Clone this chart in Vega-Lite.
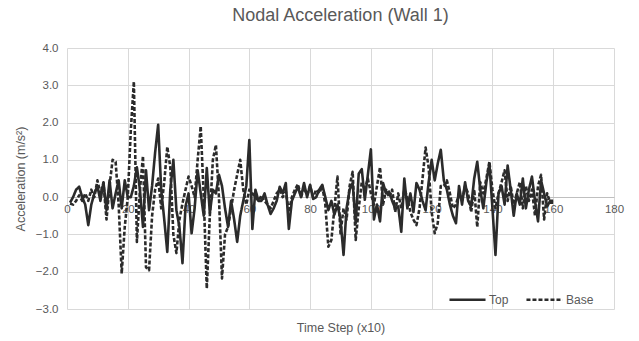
{
  "$schema": "https://vega.github.io/schema/vega-lite/v6.json",
  "width": 547,
  "height": 261,
  "autosize": {"type": "none"},
  "padding": {"left": 67, "top": 48, "right": 25, "bottom": 32},
  "background": "white",
  "config": {
    "font": "Liberation Sans",
    "view": {"stroke": null},
    "axis": {"gridColor": "#d9d9d9", "gridWidth": 1, "labelColor": "#595959", "titleColor": "#595959", "labelFontSize": 11.5, "ticks": false, "titleFontWeight": "normal"}
  },
  "title": {"text": "Nodal Acceleration (Wall 1)", "fontSize": 18, "fontWeight": "normal", "color": "#595959", "offset": 17, "anchor": "middle"},
  "data": {
    "values": [
      {"t":1,"Top":-0.15,"Base":-0.17},{"t":2,"Top":0.0,"Base":-0.2},{"t":3,"Top":0.2,"Base":-0.1},{"t":4,"Top":0.28,"Base":0.05},{"t":5,"Top":0.0,"Base":-0.1},
      {"t":6,"Top":-0.2,"Base":0.1},{"t":7,"Top":-0.75,"Base":-0.1},{"t":8,"Top":-0.2,"Base":0.2},{"t":9,"Top":0.1,"Base":0.0},{"t":10,"Top":0.3,"Base":0.45},
      {"t":11,"Top":-0.1,"Base":0.1},{"t":12,"Top":0.4,"Base":0.38},{"t":13,"Top":-0.35,"Base":-0.6},{"t":14,"Top":0.45,"Base":0.3},{"t":15,"Top":-0.3,"Base":1.0},
      {"t":16,"Top":0.1,"Base":0.95},{"t":17,"Top":0.45,"Base":-0.2},{"t":18,"Top":-0.3,"Base":-2.05},{"t":19,"Top":0.45,"Base":-0.8},{"t":20,"Top":0.0,"Base":0.0},
      {"t":21,"Top":0.0,"Base":1.8},{"t":22,"Top":0.3,"Base":3.1},{"t":23,"Top":0.8,"Base":-1.2},{"t":24,"Top":0.2,"Base":0.2},{"t":25,"Top":-0.8,"Base":1.1},
      {"t":26,"Top":0.72,"Base":-1.88},{"t":27,"Top":-0.35,"Base":-1.96},{"t":28,"Top":0.3,"Base":-0.5},{"t":29,"Top":1.2,"Base":0.2},{"t":30,"Top":1.94,"Base":0.5},
      {"t":31,"Top":0.2,"Base":-0.3},{"t":32,"Top":-0.6,"Base":0.4},{"t":33,"Top":-1.47,"Base":1.35},{"t":34,"Top":0.2,"Base":0.8},{"t":35,"Top":1.0,"Base":-1.0},
      {"t":36,"Top":-0.35,"Base":-1.5},{"t":37,"Top":-0.8,"Base":-0.6},{"t":38,"Top":-1.77,"Base":-0.17},{"t":39,"Top":-0.25,"Base":0.2},{"t":40,"Top":0.1,"Base":0.55},
      {"t":41,"Top":-0.97,"Base":0.3},{"t":42,"Top":-0.3,"Base":0.0},{"t":43,"Top":0.72,"Base":1.0},{"t":44,"Top":0.1,"Base":1.9},{"t":45,"Top":-0.5,"Base":0.0},
      {"t":46,"Top":0.78,"Base":-2.45},{"t":47,"Top":-0.43,"Base":-0.5},{"t":48,"Top":0.2,"Base":1.0},{"t":49,"Top":0.1,"Base":1.4},{"t":50,"Top":0.6,"Base":0.0},
      {"t":51,"Top":0.3,"Base":-2.18},{"t":52,"Top":-0.3,"Base":-1.0},{"t":53,"Top":-0.8,"Base":-0.8},{"t":54,"Top":-0.1,"Base":-0.3},{"t":55,"Top":-0.6,"Base":0.2},
      {"t":56,"Top":-1.2,"Base":0.6},{"t":57,"Top":-0.5,"Base":1.0},{"t":58,"Top":-0.1,"Base":0.2},{"t":59,"Top":0.3,"Base":-0.2},{"t":60,"Top":1.53,"Base":0.2},
      {"t":61,"Top":-0.85,"Base":0.1},{"t":62,"Top":0.2,"Base":0.0},{"t":63,"Top":-0.1,"Base":-0.1},{"t":64,"Top":-0.1,"Base":0.05},{"t":65,"Top":0.1,"Base":-0.1},
      {"t":66,"Top":-0.2,"Base":-0.2},{"t":67,"Top":-0.45,"Base":-0.3},{"t":68,"Top":-0.3,"Base":-0.1},{"t":69,"Top":-0.1,"Base":0.1},{"t":70,"Top":0.28,"Base":0.2},
      {"t":71,"Top":0.1,"Base":0.0},{"t":72,"Top":0.38,"Base":0.15},{"t":73,"Top":-0.85,"Base":-0.4},{"t":74,"Top":-0.1,"Base":0.0},{"t":75,"Top":0.1,"Base":0.2},
      {"t":76,"Top":0.28,"Base":0.35},{"t":77,"Top":0.0,"Base":0.0},{"t":78,"Top":0.38,"Base":0.25},{"t":79,"Top":0.0,"Base":0.05},{"t":80,"Top":0.33,"Base":0.3},
      {"t":81,"Top":-0.05,"Base":0.0},{"t":82,"Top":0.0,"Base":0.2},{"t":83,"Top":0.2,"Base":0.1},{"t":84,"Top":0.33,"Base":0.3},{"t":85,"Top":0.0,"Base":-0.2},
      {"t":86,"Top":-0.35,"Base":-1.33},{"t":87,"Top":-0.1,"Base":-1.15},{"t":88,"Top":-0.47,"Base":-0.3},{"t":89,"Top":-0.2,"Base":0.55},{"t":90,"Top":-0.6,"Base":-0.97},
      {"t":91,"Top":-1.55,"Base":-0.3},{"t":92,"Top":-0.3,"Base":-0.6},{"t":93,"Top":0.2,"Base":0.3},{"t":94,"Top":0.38,"Base":0.68},{"t":95,"Top":-0.7,"Base":-1.15},
      {"t":96,"Top":0.63,"Base":-0.3},{"t":97,"Top":0.75,"Base":0.4},{"t":98,"Top":-0.07,"Base":0.2},{"t":99,"Top":0.6,"Base":0.5},{"t":100,"Top":1.28,"Base":0.1},
      {"t":101,"Top":-0.6,"Base":-0.2},{"t":102,"Top":-0.2,"Base":0.3},{"t":103,"Top":-0.65,"Base":0.8},{"t":104,"Top":0.38,"Base":-0.2},{"t":105,"Top":0.1,"Base":0.2},
      {"t":106,"Top":0.15,"Base":0.0},{"t":107,"Top":-0.1,"Base":0.2},{"t":108,"Top":-0.3,"Base":-0.4},{"t":109,"Top":-0.25,"Base":0.1},{"t":110,"Top":-0.93,"Base":-0.3},
      {"t":111,"Top":0.5,"Base":0.2},{"t":112,"Top":-0.3,"Base":0.0},{"t":113,"Top":0.1,"Base":-0.4},{"t":114,"Top":-0.4,"Base":-0.6},{"t":115,"Top":0.38,"Base":-0.75},
      {"t":116,"Top":0.2,"Base":-0.3},{"t":117,"Top":-0.1,"Base":0.5},{"t":118,"Top":-0.35,"Base":1.33},{"t":119,"Top":0.4,"Base":0.8},{"t":120,"Top":1.0,"Base":-0.4},
      {"t":121,"Top":0.45,"Base":-0.97},{"t":122,"Top":0.9,"Base":-0.7},{"t":123,"Top":1.27,"Base":0.3},{"t":124,"Top":0.45,"Base":0.3},{"t":125,"Top":0.2,"Base":0.45},
      {"t":126,"Top":-0.2,"Base":0.1},{"t":127,"Top":-0.5,"Base":-0.3},{"t":128,"Top":-0.7,"Base":-0.2},{"t":129,"Top":0.3,"Base":0.1},{"t":130,"Top":-0.2,"Base":-0.1},
      {"t":131,"Top":0.4,"Base":0.3},{"t":132,"Top":-0.1,"Base":0.1},{"t":133,"Top":-0.25,"Base":-0.4},{"t":134,"Top":0.5,"Base":0.2},{"t":135,"Top":0.95,"Base":-0.8},
      {"t":136,"Top":0.2,"Base":0.4},{"t":137,"Top":-0.3,"Base":0.1},{"t":138,"Top":0.4,"Base":0.5},{"t":139,"Top":0.9,"Base":0.95},{"t":140,"Top":-0.3,"Base":0.2},
      {"t":141,"Top":-1.55,"Base":-0.3},{"t":142,"Top":0.1,"Base":0.1},{"t":143,"Top":0.3,"Base":0.4},{"t":144,"Top":-0.2,"Base":0.72},{"t":145,"Top":0.85,"Base":-0.1},
      {"t":146,"Top":0.2,"Base":0.3},{"t":147,"Top":-0.5,"Base":-0.2},{"t":148,"Top":0.1,"Base":0.1},{"t":149,"Top":-0.2,"Base":0.4},{"t":150,"Top":0.5,"Base":-0.3},
      {"t":151,"Top":-0.3,"Base":0.3},{"t":152,"Top":0.2,"Base":-0.1},{"t":153,"Top":0.55,"Base":0.2},{"t":154,"Top":-0.1,"Base":-0.5},{"t":155,"Top":-0.65,"Base":0.3},
      {"t":156,"Top":0.45,"Base":0.6},{"t":157,"Top":0.1,"Base":-0.6},{"t":158,"Top":-0.25,"Base":0.1},{"t":159,"Top":-0.1,"Base":-0.15},{"t":160,"Top":-0.1,"Base":-0.15}
    ]
  },
  "transform": [{"fold": ["Base", "Top"], "as": ["series", "value"]}],
  "mark": {"type": "line", "strokeWidth": 2.6, "color": "#2b2b2b", "clip": true, "strokeJoin": "round"},
  "encoding": {
    "x": {
      "field": "t", "type": "quantitative",
      "scale": {"domain": [0, 180], "nice": false},
      "axis": {"values": [0, 20, 40, 60, 80, 100, 120, 140, 160, 180], "title": "Time Step (x10)", "titleFontSize": 12.5, "offset": -112, "titleY": 130, "titleBaseline": "middle", "domainColor": "#bfbfbf", "domainWidth": 1, "labelPadding": 6, "grid": true, "labelFlush": false}
    },
    "y": {
      "field": "value", "type": "quantitative",
      "scale": {"domain": [-3, 4], "nice": false},
      "axis": {"values": [-3, -2, -1, 0, 1, 2, 3, 4], "format": ".1f", "title": "Acceleration (m/s²)", "titleFontSize": 12.5, "domain": false, "labelPadding": 9, "titlePadding": 8}
    },
    "strokeDash": {
      "field": "series", "type": "nominal",
      "scale": {"domain": ["Top", "Base"], "range": [[1, 0], [4, 2]]},
      "legend": {"title": null, "orient": "none", "legendX": 381, "legendY": 232, "direction": "horizontal", "symbolType": "stroke", "symbolSize": 1300, "symbolStrokeWidth": 2.5, "symbolStrokeColor": "#2b2b2b", "labelFontSize": 12, "labelColor": "#595959", "columnPadding": 12, "labelOffset": 2}
    }
  }
}
